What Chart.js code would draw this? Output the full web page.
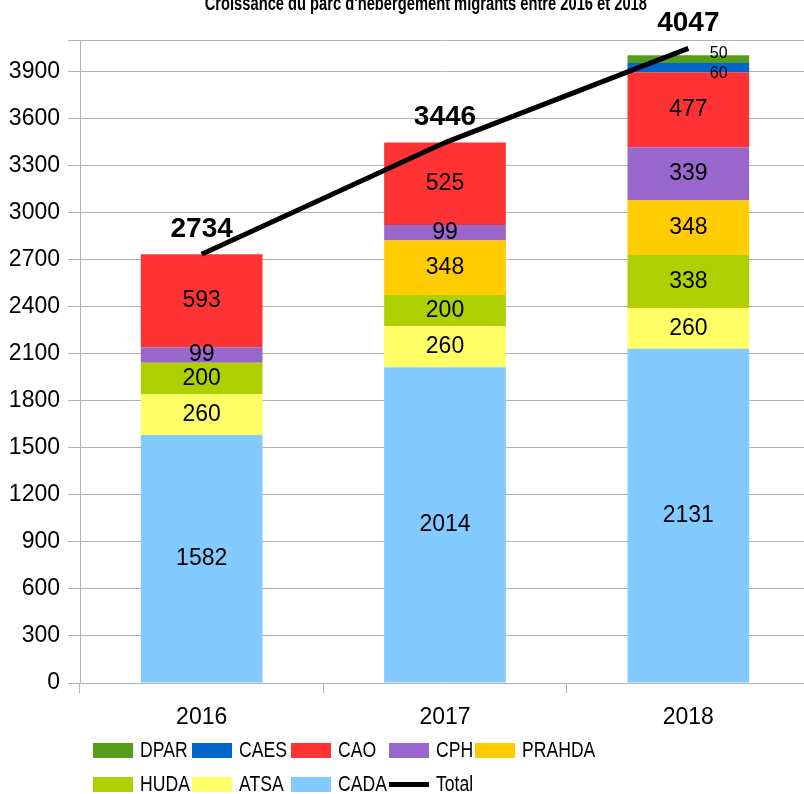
<!DOCTYPE html>
<html>
<head>
<meta charset="utf-8">
<script src="https://cdn.jsdelivr.net/npm/chart.js@4"></script>
<style>
  html, body { margin: 0; padding: 0; background: #fff; overflow: hidden; }
  #wrap { position: relative; width: 810px; height: 794px; }
  #title {
    position: absolute; left: 0; width: 852px; top: -8px;
    text-align: center; white-space: nowrap;
    font: bold 20px "Liberation Sans", sans-serif;
    color: #000;
  }
  #title span { display: inline-block; transform: scaleX(0.735); }
  #legend {
    position: absolute; left: 93px; top: 736px;
    display: grid; grid-template-columns: 99px 99px 98px 86px auto;
    row-gap: 6px;
    font: 22px "Liberation Sans", sans-serif;
    color: #000;
  }
  .item { display: flex; align-items: center; height: 28px; white-space: nowrap; }
  .box { width: 40px; height: 15px; margin-right: 7px; flex: none; }
  .line { width: 40px; height: 5px; background: #000; margin-right: 7px; flex: none; }
  .txt { display: inline-block; transform: scaleX(0.8); transform-origin: left center; }
</style>
</head>
<body>
<div id="wrap">
  <canvas id="myChart" width="810" height="794"></canvas>
  <div id="title"><span>Croissance du parc d'hébergement migrants entre 2016 et 2018</span></div>
  <div id="legend"></div>
</div>
<script>
const labels = ["2016", "2017", "2018"];

const cada = [1582, 2014, 2131];
const atsa = [260, 260, 260];
const huda = [200, 200, 338];
const prahda = [0, 348, 348];
const cph = [99, 99, 339];
const cao = [593, 525, 477];
const caes = [0, 0, 60];
const dpar = [0, 0, 50];
const total = [2734, 3446, 4047];

const yTicksMax = 4100;
const yTickStep = 300;

// legend order as in the picture
const legendOrder = ["DPAR", "CAES", "CAO", "CPH", "PRAHDA", "HUDA", "ATSA", "CADA", "Total"];

const barSets = [
  { label: "CADA", data: cada, color: "#83caff" },
  { label: "ATSA", data: atsa, color: "#ffff66" },
  { label: "HUDA", data: huda, color: "#aecf00" },
  { label: "PRAHDA", data: prahda, color: "#ffcc00" },
  { label: "CPH", data: cph, color: "#9966cc" },
  { label: "CAO", data: cao, color: "#ff3333" },
  { label: "CAES", data: caes, color: "#0066cc" },
  { label: "DPAR", data: dpar, color: "#579d1c" },
];

const datasets = barSets.map(s => ({
  type: "bar",
  label: s.label,
  data: s.data,
  backgroundColor: s.color,
  stack: "parc",
  order: 1,
  barPercentage: 0.5,
  categoryPercentage: 1,
}));

datasets.push({
  type: "line",
  label: "Total",
  data: total,
  borderColor: "#000",
  borderWidth: 5,
  pointRadius: 0,
  stack: "total",
  order: 0,
  isTotal: true,
});

// value labels inside segments and above the total line
const valueLabels = {
  id: "valueLabels",
  afterDatasetsDraw(chart) {
    const ctx = chart.ctx;
    ctx.save();
    ctx.fillStyle = "#000";
    ctx.textAlign = "center";
    ctx.textBaseline = "middle";
    chart.data.datasets.forEach((ds, i) => {
      const meta = chart.getDatasetMeta(i);
      meta.data.forEach((el, j) => {
        const v = ds.data[j];
        if (!v) return;
        if (ds.isTotal) {
          ctx.font = "bold 28px 'Liberation Sans', sans-serif";
          ctx.fillText(String(v), el.x, el.y - 25);
          return;
        }
        const h = Math.abs(el.base - el.y);
        let x = el.x;
        let y = (el.y + el.base) / 2;
        if (h < 12) {
          ctx.font = "16px 'Liberation Sans', sans-serif";
          x += el.width * 0.25;
          y += ds.label === "DPAR" ? -6 : 6;
        } else {
          ctx.font = "23px 'Liberation Sans', sans-serif";
        }
        ctx.fillText(String(v), x, y);
      });
    });
    ctx.restore();
  },
};

const config = {
  data: { labels: labels, datasets: datasets },
  options: {
    responsive: false,
    animation: false,
    layout: { padding: { top: 40, right: 0, bottom: 61, left: 0 } },
    plugins: {
      legend: { display: false },
      title: { display: false },
      tooltip: { enabled: false },
    },
    scales: {
      x: {
        stacked: true,
        grid: {
          offset: true,
          drawOnChartArea: false,
          tickLength: 10,
          color: "#b3b3b3",
        },
        border: { color: "#b3b3b3" },
        ticks: {
          color: "#000",
          font: { family: "'Liberation Sans', sans-serif", size: 23 },
          padding: 11,
        },
        afterFit(scale) { scale.height = 50; },
      },
      y: {
        stacked: true,
        min: 0,
        max: yTicksMax,
        grid: { color: "#b3b3b3", tickLength: 12 },
        border: { color: "#b3b3b3" },
        ticks: {
          stepSize: yTickStep,
          color: "#000",
          padding: 8,
          font: { family: "'Liberation Sans', sans-serif", size: 23 },
          callback: v => (v % yTickStep === 0 ? v : ""),
        },
        afterFit(scale) { scale.width = 80; },
      },
    },
  },
  plugins: [valueLabels],
};

const myChart = new Chart(document.getElementById("myChart"), config);

// html legend
const legendEl = document.getElementById("legend");
legendOrder.forEach(name => {
  const ds = datasets.find(d => d.label === name);
  const item = document.createElement("div");
  item.className = "item";
  const mark = document.createElement("span");
  if (ds.isTotal) {
    mark.className = "line";
  } else {
    mark.className = "box";
    mark.style.background = ds.backgroundColor;
  }
  item.appendChild(mark);
  const txt = document.createElement("span");
  txt.className = "txt";
  txt.textContent = name;
  item.appendChild(txt);
  legendEl.appendChild(item);
});
</script>
</body>
</html>
